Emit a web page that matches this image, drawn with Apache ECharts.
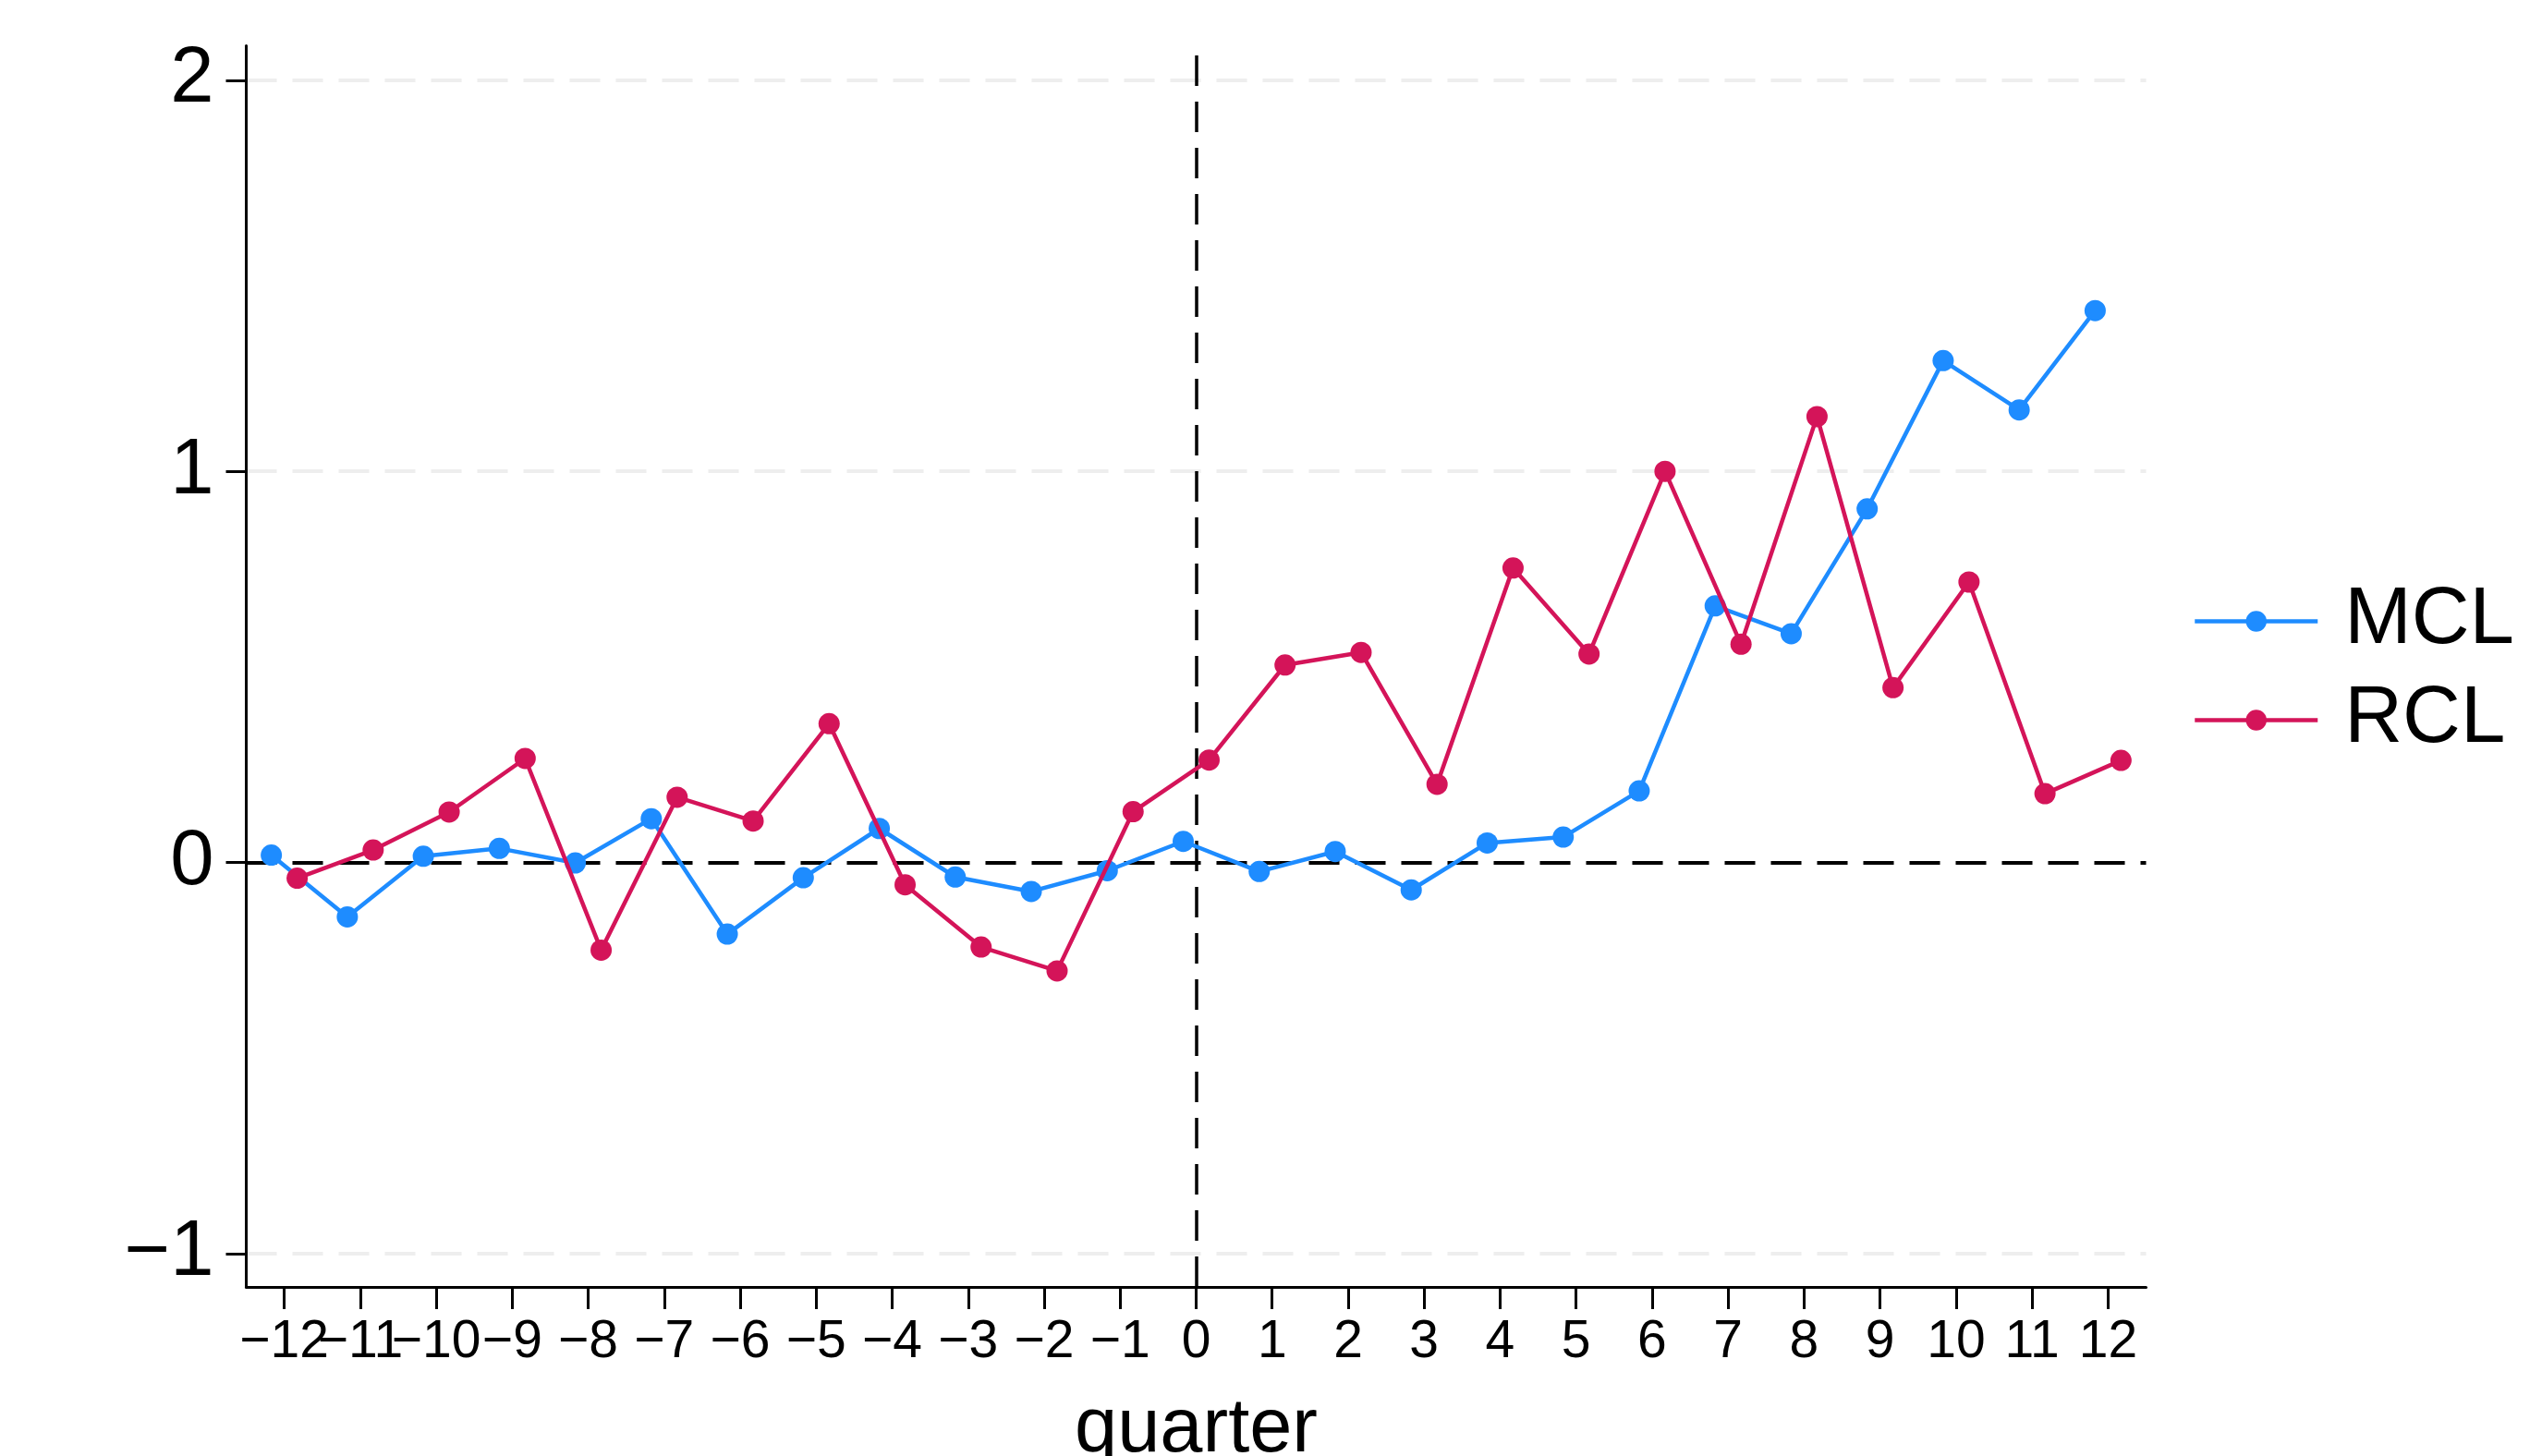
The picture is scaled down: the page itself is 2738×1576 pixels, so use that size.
<!DOCTYPE html>
<html>
<head>
<meta charset="utf-8">
<script src="https://cdn.jsdelivr.net/npm/echarts@6/dist/echarts.min.js"></script>
<style>
html,body{margin:0;padding:0;background:#fff;}
#chart{width:2738px;height:1576px;}
</style>
</head>
<body>
<div id="chart"></div>
<script>
// ---- data ----
const quarters = [-12,-11,-10,-9,-8,-7,-6,-5,-4,-3,-2,-1,0,1,2,3,4,5,6,7,8,9,10,11,12];
const mcl = [0.019,-0.139,0.016,0.036,-0.001,0.112,-0.183,-0.039,0.087,-0.037,-0.074,-0.021,0.054,
             -0.023,0.028,-0.070,0.050,0.065,0.183,0.656,0.585,0.904,1.283,1.157,1.411];
const rcl = [-0.040,0.032,0.129,0.266,-0.224,0.167,0.106,0.355,-0.057,-0.216,-0.277,0.130,0.262,
             0.505,0.537,0.200,0.753,0.533,1.000,0.558,1.140,0.447,0.717,0.176,0.261];
const yTicks = [-1,0,1,2];
const xTickLabels = quarters.map(q => (q < 0 ? '\u2212' + Math.abs(q) : String(q)));
const seriesNames = ['MCL','RCL'];

// ---- styling ----
const OFFSET = 0.17; // horizontal jitter of the two series
const FONT = 'Liberation Sans';
const fmt = v => (v < 0 ? '\u2212' + Math.abs(v) : String(v));

const chart = echarts.init(document.getElementById('chart'), null, {renderer:'canvas'});
chart.setOption({
  backgroundColor:'#ffffff',
  animation:false,
  grid:{left:266.5, right:415.5, top:49.5, bottom:183, containLabel:false, outerBoundsMode:'none'},
  xAxis:[
    {
      type:'value', min:-12.5, max:12.5,
      name:'quarter', nameLocation:'middle', nameGap:114,
      nameTextStyle:{fontFamily:FONT, fontSize:83, color:'#000'},
      axisLine:{show:true, onZero:false, lineStyle:{color:'#000', width:3}},
      axisTick:{show:false},
      axisLabel:{show:false},
      splitLine:{show:false}
    },
    {
      type:'category', position:'bottom', data:xTickLabels, boundaryGap:true,
      axisLine:{show:false, onZero:false},
      axisTick:{show:true, alignWithLabel:true, interval:0, length:24, lineStyle:{color:'#000', width:3}},
      axisLabel:{fontFamily:FONT, fontSize:57, color:'#000', margin:32, interval:0, hideOverlap:false},
      splitLine:{show:false}
    }
  ],
  yAxis:{
    type:'value', min:-1.085, max:2.088,
    axisLine:{show:true, onZero:false, lineStyle:{color:'#000', width:3}},
    axisTick:{show:true, length:22, lineStyle:{color:'#000', width:3}, customValues:yTicks},
    axisLabel:{fontFamily:FONT, fontSize:85, color:'#000', margin:35, customValues:yTicks, formatter:fmt,
               showMinLabel:true, showMaxLabel:true},
    splitLine:{show:true, lineStyle:{color:'#eeeeee', width:4, type:[33,17]}}
  },
  legend:{
    orient:'vertical', left:2368, top:624,
    itemWidth:133, itemHeight:28, itemGap:20,
    lineStyle:{width:4.5},
    textStyle:{fontFamily:FONT, fontSize:87, color:'#000', lineHeight:87, padding:[0,0,0,24]},
    data:seriesNames
  },
  series:[
    {
      name:seriesNames[0], type:'line', xAxisIndex:0,
      data:quarters.map((q,i)=>[q-OFFSET, mcl[i]]),
      symbol:'circle', symbolSize:23,
      itemStyle:{color:'#1E8CFF'},
      lineStyle:{color:'#1E8CFF', width:4.5},
      z:3,
      markLine:{
        silent:true, symbol:'none', z:1,
        label:{show:false},
        lineStyle:{color:'#000', width:4, type:[33,17]},
        data:[{yAxis:0},{xAxis:0, lineStyle:{width:3.5}}]
      }
    },
    {
      name:seriesNames[1], type:'line', xAxisIndex:0,
      data:quarters.map((q,i)=>[q+OFFSET, rcl[i]]),
      symbol:'circle', symbolSize:23,
      itemStyle:{color:'#D41459'},
      lineStyle:{color:'#D41459', width:4.5},
      z:4
    }
  ]
});
</script>
</body>
</html>
